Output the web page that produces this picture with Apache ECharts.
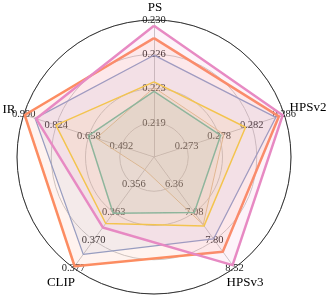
<!DOCTYPE html>
<html><head><meta charset="utf-8">
<script src="https://cdn.jsdelivr.net/npm/echarts@6/dist/echarts.min.js"></script>
<style>html,body{margin:0;padding:0;background:#fff}#c{width:329px;height:297px}</style>
</head><body><div id="c"></div>
<script>
// Indicators listed counterclockwise from top
var indicatorNames = ['PS', 'IR', 'CLIP', 'HPSv3', 'HPSv2'];
var indicatorMin = [0.2156, 0.326, 0.349, 5.64, 0.2692];
var indicatorMax = [0.230, 0.990, 0.377, 8.52, 0.286];
var tickLabels = {
  PS: ['0.219', '0.223', '0.226', '0.230'],
  IR: ['0.492', '0.658', '0.824', '0.990'],
  CLIP: ['0.356', '0.363', '0.370', '0.377'],
  HPSv3: ['6.36', '7.08', '7.80', '8.52'],
  HPSv2: ['0.273', '0.278', '0.282', '0.286']
};
var seriesNames = ['A', 'B', 'C', 'D', 'E', 'F'];
var seriesColors = ['#e5c494', '#66c2a5', '#ffd92f', '#8da0cb', '#fc8d62', '#e78ac3'];
var valuesA = [0.2229, 0.620, 0.3522, 7.40, 0.2782];
var valuesB = [0.2225, 0.660, 0.3632, 7.08, 0.2778];
var valuesC = [0.2235, 0.826, 0.3658, 7.43, 0.2810];
var valuesD = [0.2263, 0.932, 0.3736, 7.77, 0.2849];
var valuesE = [0.2281, 0.985, 0.3766, 8.10, 0.2853];
var valuesF = [0.2294, 0.927, 0.3668, 8.45, 0.2858];
var allValues = [valuesA, valuesB, valuesC, valuesD, valuesE, valuesF];
var lineWidths = [1, 1.5, 1.5, 1.3, 2.5, 2.5];

var font = 'Liberation Serif';
// axis-name label placement (layout only)
var namePos = { PS: [155, 8], IR: [9, 110], CLIP: [61, 283], HPSv3: [245, 283], HPSv2: [308, 108] };

var chart = echarts.init(document.getElementById('c'));
chart.setOption({
  animation: false,
  radar: {
    center: [154, 157],
    radius: 137,
    shape: 'circle',
    splitNumber: 4,
    startAngle: 90,
    axisName: { show: false },
    indicator: indicatorNames.map(function (n, i) {
      return {
        name: n, min: indicatorMin[i], max: indicatorMax[i],
        axisLabel: {
          formatter: function (v, idx) { return idx === 0 ? '' : (tickLabels[n][idx - 1] || ''); }
        }
      };
    }),
    axisLine: { lineStyle: { color: '#c8c8c8', width: 1 } },
    splitLine: { lineStyle: { color: ['#c8c8c8', '#c8c8c8', '#c8c8c8', '#c8c8c8', '#333'], width: 1 } },
    splitArea: { show: false },
    axisLabel: {
      show: true, color: '#222', fontFamily: font, fontSize: 10.5, margin: 0,
      align: 'center', verticalAlign: 'middle',
      formatter: function (v, idx) { return idx === 0 ? '' : (v >= 1 ? v.toFixed(2) : v.toFixed(3)); }
    }
  },
  graphic: indicatorNames.map(function (n) {
    return {
      type: 'text', x: namePos[n][0], y: namePos[n][1],
      style: { text: n, fill: '#000', font: '13px "' + font + '"', align: 'center', verticalAlign: 'middle' }
    };
  }),
  series: [{
    type: 'radar',
    symbol: 'none',
    data: allValues.map(function (vals, i) {
      return {
        name: seriesNames[i], value: vals,
        lineStyle: { color: seriesColors[i], width: lineWidths[i] },
        itemStyle: { color: seriesColors[i] },
        areaStyle: { color: seriesColors[i], opacity: 0.1 }
      };
    })
  }]
});
</script></body></html>
